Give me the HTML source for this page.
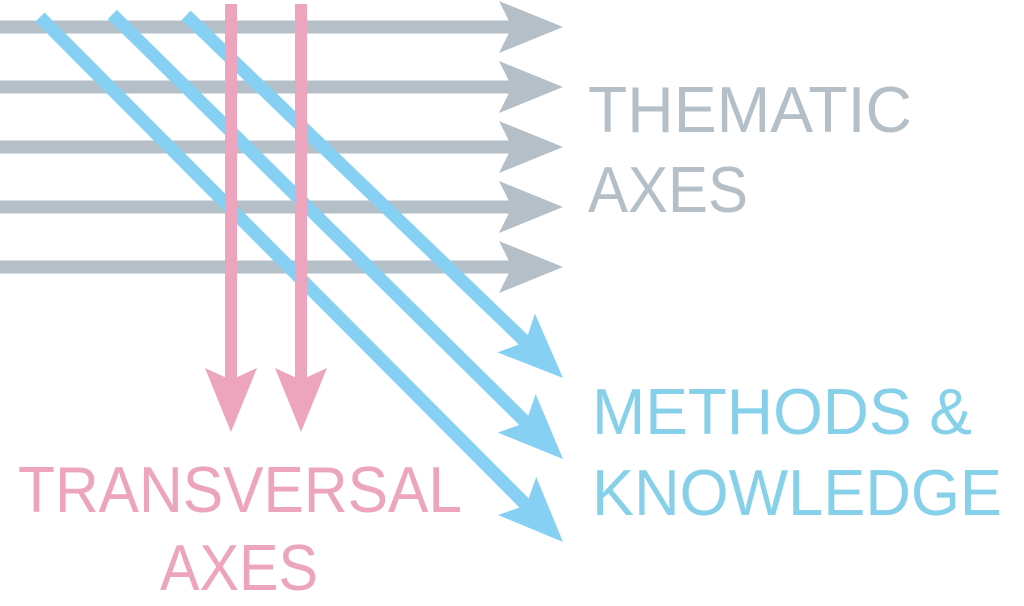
<!DOCTYPE html>
<html><head><meta charset="utf-8"><style>
html,body{margin:0;padding:0;background:#fff;}
svg{display:block;}
text{font-family:"Liberation Sans",sans-serif;}
</style></head><body>
<svg width="1024" height="606" viewBox="0 0 1024 606" xmlns="http://www.w3.org/2000/svg">
<defs>
<g id="gh"><rect x="-564" y="-6.5" width="514" height="13"/><polygon points="0,0 -64,-26 -51,0 -64,26"/></g>
</defs>
<g fill="#b4bfc7">
<use href="#gh" transform="translate(563,27)"/>
<use href="#gh" transform="translate(563,87)"/>
<use href="#gh" transform="translate(563,147)"/>
<use href="#gh" transform="translate(563,207)"/>
<use href="#gh" transform="translate(563,267)"/>
</g>
<g fill="#86d0f4">
<g transform="translate(563,542) rotate(45.1)"><rect x="-741" y="-6.5" width="691" height="13"/><polygon points="0,0 -65,-27 -52,0 -65,27"/></g>
<g transform="translate(563,459) rotate(44.6)"><rect x="-633" y="-6.5" width="583" height="13"/><polygon points="0,0 -65,-27 -52,0 -65,27"/></g>
<g transform="translate(563,378) rotate(43.9)"><rect x="-523" y="-6.5" width="473" height="13"/><polygon points="0,0 -65,-27 -52,0 -65,27"/></g>
</g>
<g fill="#eda4bd">
<rect x="225" y="4" width="12" height="380"/>
<polygon points="231,432 205,368 231,380 257,368"/>
<rect x="295" y="4" width="12" height="380"/>
<polygon points="301,432 275,368 301,380 327,368"/>
</g>
<g fill="#b4bfc7" font-size="65">
<text x="588" y="132" textLength="324" lengthAdjust="spacingAndGlyphs">THEMATIC</text>
<text x="588" y="212" textLength="160" lengthAdjust="spacingAndGlyphs">AXES</text>
</g>
<g fill="#86d0ea" font-size="65">
<text x="592" y="434" textLength="380" lengthAdjust="spacingAndGlyphs">METHODS &amp;</text>
<text x="592" y="515" textLength="410" lengthAdjust="spacingAndGlyphs">KNOWLEDGE</text>
</g>
<g fill="#eda4bd" font-size="65">
<text x="18" y="512" textLength="444" lengthAdjust="spacingAndGlyphs">TRANSVERSAL</text>
<text x="160" y="590" textLength="158" lengthAdjust="spacingAndGlyphs">AXES</text>
</g>
</svg>
</body></html>
